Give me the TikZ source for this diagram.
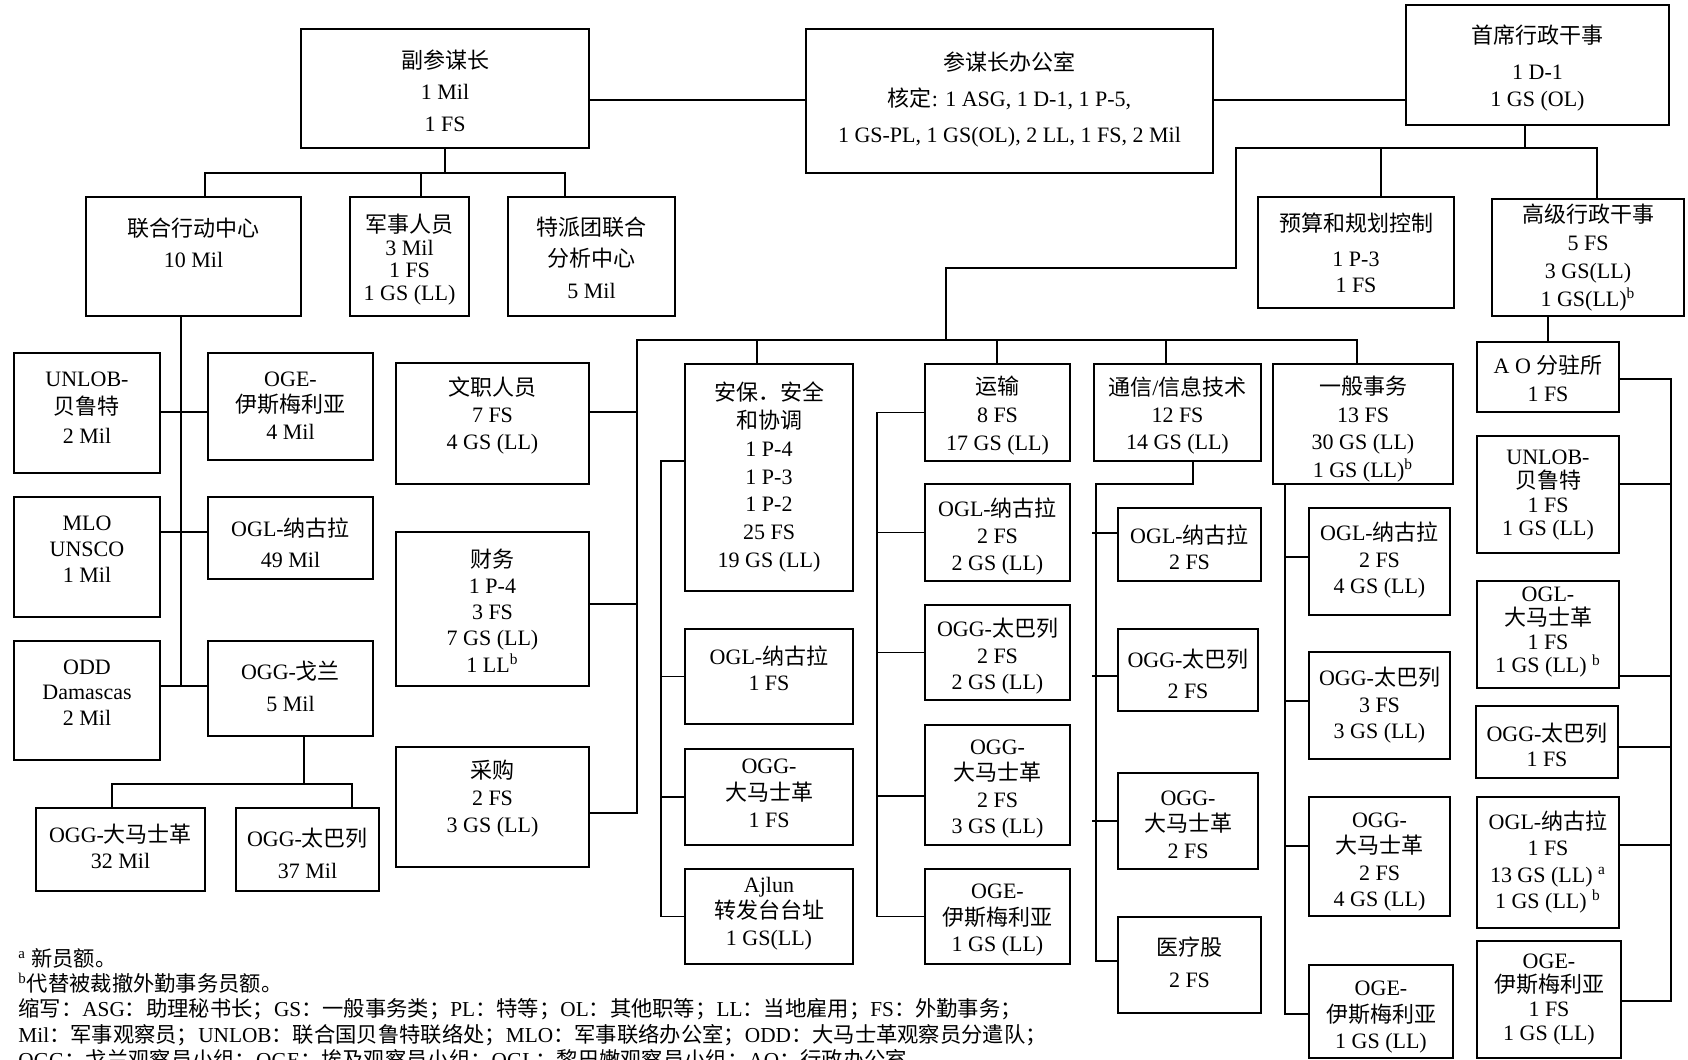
\documentclass[tikz,border=0pt]{standalone}
\usepackage{fontspec}
\setmainfont{Liberation Serif}
\newfontfamily\cjkfont{Noto Sans CJK SC}
\usetikzlibrary{calc}
\XeTeXinterchartokenstate=1
\newXeTeXintercharclass\CJKcls
\newcount\cjkc
\def\setcjkrange#1#2{\cjkc=#1 \loop\XeTeXcharclass\cjkc=\CJKcls\relax\ifnum\cjkc<#2 \advance\cjkc by 1 \repeat}
\setcjkrange{"3000}{"303F}
\setcjkrange{"4E00}{"9FFF}
\setcjkrange{"FF00}{"FFEF}
\XeTeXinterchartoks 0 \CJKcls = {\cjkfont}
\XeTeXinterchartoks 4095 \CJKcls = {\cjkfont}
\XeTeXinterchartoks \CJKcls 0 = {\rmfamily}
\XeTeXinterchartoks \CJKcls 4095 = {\rmfamily}
\tikzset{
  box/.style={draw, line width=0.9pt, inner sep=0pt, outer sep=0pt},
  txt/.style={align=center, inner sep=0pt},
  ln/.style={line width=0.75pt},
  note/.style={anchor=base west, inner sep=0pt, font=\fontsize{10.65}{12}\selectfont}
}
% name, x1, y1, x2, y2, text centre y, baselineskip (pt), text
\newcommand\bx[8]{%
  \node[box, minimum width={(#4-#2)*0.5pt}, minimum height={(#5-#3)*0.5pt}] (#1) at ({(#2+#4)/2},{(#3+#5)/2}) {};
  \node[txt, font=\fontsize{11}{#7}\selectfont] (#1-t) at ({(#2+#4)/2},#6) {#8};
}
\begin{document}
\begin{tikzpicture}[x=0.5pt,y=-0.5pt]
\useasboundingbox (0,0) rectangle (1688,1060);
\fill[white] (0,0) rectangle (1688,1060);
% named levels
\coordinate (hTop) at (0,100);
\coordinate (hA) at (0,173);
\coordinate (vJoc) at (205,0); \coordinate (vMil) at (421,0); \coordinate (vJmac) at (565,0);
\coordinate (vL) at (181,0);
\coordinate (hU) at (0,412); \coordinate (hM) at (0,532); \coordinate (hO) at (0,686);
\coordinate (vG) at (304,0); \coordinate (hG) at (0,784); \coordinate (vGa) at (112,0); \coordinate (vGb) at (352,0);
\coordinate (vC) at (1525,0); \coordinate (hB) at (0,148); \coordinate (vB1) at (1236,0);
\coordinate (vBud) at (1381,0); \coordinate (vSao) at (1597,0);
\coordinate (hK) at (0,268); \coordinate (vK) at (946,0); \coordinate (hS) at (0,340);
\coordinate (vP) at (637,0); \coordinate (vSec) at (757,0); \coordinate (vTr) at (997,0);
\coordinate (vCm) at (1166,0); \coordinate (vGn) at (1357,0);
\coordinate (hCl) at (0,412); \coordinate (hFi) at (0,604); \coordinate (hPr) at (0,813);
\coordinate (vS2) at (661,0); \coordinate (hSe) at (0,461);
\coordinate (vT2) at (877,0); \coordinate (hDam) at (0,796);
\coordinate (vCb) at (1193,0); \coordinate (hCb) at (0,484); \coordinate (vC2) at (1096,0);
\coordinate (hCm1) at (0,533); \coordinate (hCm2) at (0,676); \coordinate (hCm3) at (0,821); \coordinate (hCm4) at (0,961);
\coordinate (vG2) at (1285,0);
\coordinate (hGn1) at (0,557); \coordinate (hGn2) at (0,701); \coordinate (hGn3) at (0,846); \coordinate (hGn4) at (0,1014);
\coordinate (vR) at (1671,0);
\coordinate (hR1) at (0,379); \coordinate (hR2) at (0,484); \coordinate (hR3) at (0,676);
\coordinate (hR4) at (0,747); \coordinate (hR5) at (0,845); \coordinate (hR6) at (0,1001);
% boxes
\bx{dcos}{301}{29}{589}{148}{90.5}{15.75}{副参谋长\\1 Mil\\1 FS}
\bx{cos}{806}{29}{1213}{173}{99}{18}{参谋长办公室\\核定: 1 ASG, 1 D-1, 1 P-5,\\1 GS-PL, 1 GS(OL), 2 LL, 1 FS, 2 Mil}
\bx{cao}{1406}{5}{1669}{125}{68.5}{13.5}{首席行政干事\\[4.5pt]1 D-1\\1 GS (OL)}
\bx{budget}{1258}{197}{1454}{308}{252.5}{13}{预算和规划控制\\[4.5pt]1 P-3\\1 FS}
\bx{sao}{1492}{199}{1684}{316}{258}{14}{高级行政干事\\5 FS\\3 GS(LL)\\1 GS(LL)\textsuperscript{b}}
\bx{joc}{86}{197}{301}{316}{242.5}{15.5}{联合行动中心\\10 Mil}
\bx{milp}{350}{197}{469}{316}{259.5}{11.2}{军事人员\\3 Mil\\1 FS\\1 GS (LL)}
\bx{jmac}{508}{197}{675}{316}{257.5}{15.75}{特派团联合\\分析中心\\5 Mil}
\bx{unlobL}{14}{353}{160}{473}{407.5}{14.25}{UNLOB-\\贝鲁特\\2 Mil}
\bx{ogeL}{208}{353}{373}{460}{405.5}{13.25}{OGE-\\伊斯梅利亚\\4 Mil}
\bx{mlo}{14}{497}{160}{617}{549}{13}{MLO\\UNSCO\\1 Mil}
\bx{oglL}{208}{497}{373}{579}{542.5}{15.5}{OGL-纳古拉\\49 Mil}
\bx{odd}{14}{641}{160}{760}{692.5}{12.75}{ODD\\Damascas\\2 Mil}
\bx{oggL}{208}{641}{373}{736}{686}{16}{OGG-戈兰\\5 Mil}
\bx{oggdam}{36}{808}{205}{891}{846}{13}{OGG-大马士革\\32 Mil}
\bx{oggtib}{236}{808}{379}{891}{853}{16}{OGG-太巴列\\37 Mil}
\bx{clerk}{396}{363}{589}{484}{416}{13.5}{文职人员\\7 FS\\4 GS (LL)}
\bx{fin}{396}{532}{589}{686}{610.5}{13.1}{财务\\1 P-4\\3 FS\\7 GS (LL)\\1 LL\textsuperscript{b}}
\bx{proc}{396}{747}{589}{867}{799}{13.5}{采购\\2 FS\\3 GS (LL)}
\bx{sec}{685}{364}{853}{591}{477}{13.85}{安保．安全\\和协调\\1 P-4\\1 P-3\\1 P-2\\25 FS\\19 GS (LL)}
\bx{secOGL}{685}{629}{853}{724}{668}{13}{OGL-纳古拉\\1 FS}
\bx{secOGG}{685}{749}{853}{845}{793}{13.5}{OGG-\\大马士革\\1 FS}
\bx{ajlun}{685}{869}{853}{964}{913.5}{13.25}{Ajlun\\转发台台址\\1 GS(LL)}
\bx{trans}{925}{364}{1070}{461}{416}{14}{运输\\8 FS\\17 GS (LL)}
\bx{trOGL}{925}{484}{1070}{581}{537}{13.5}{OGL-纳古拉\\2 FS\\2 GS (LL)}
\bx{trOGG}{925}{605}{1070}{700}{656.5}{13.25}{OGG-太巴列\\2 FS\\2 GS (LL)}
\bx{trDam}{925}{725}{1070}{845}{789}{13.3}{OGG-\\大马士革\\2 FS\\3 GS (LL)}
\bx{trOGE}{925}{869}{1070}{964}{920.5}{13.25}{OGE-\\伊斯梅利亚\\1 GS (LL)}
\bx{comm}{1094}{364}{1261}{461}{415}{13.5}{通信/信息技术\\12 FS\\14 GS (LL)}
\bx{cmOGL}{1118}{508}{1261}{581}{547}{13}{OGL-纳古拉\\2 FS}
\bx{cmOGG}{1118}{629}{1258}{711}{673.5}{15.5}{OGG-太巴列\\2 FS}
\bx{cmDam}{1118}{773}{1258}{869}{824.5}{13.25}{OGG-\\大马士革\\2 FS}
\bx{med}{1118}{917}{1261}{1013}{962}{16}{医疗股\\2 FS}
\bx{gen}{1273}{364}{1453}{484}{429}{13.7}{一般事务\\13 FS\\30 GS (LL)\\1 GS (LL)\textsuperscript{b}}
\bx{gnOGL}{1309}{508}{1450}{615}{560.5}{13.25}{OGL-纳古拉\\2 FS\\4 GS (LL)}
\bx{gnOGG}{1309}{652}{1450}{759}{705.5}{13.25}{OGG-太巴列\\3 FS\\3 GS (LL)}
\bx{gnDam}{1309}{797}{1450}{916}{862}{13.3}{OGG-\\大马士革\\2 FS\\4 GS (LL)}
\bx{gnOGE}{1309}{965}{1453}{1058}{1017.5}{13.25}{OGE-\\伊斯梅利亚\\1 GS (LL)}
\bx{ao}{1477}{342}{1619}{412}{378}{14}{A O 分驻所\\1 FS}
\bx{unlobR}{1477}{436}{1619}{553}{495.5}{11.85}{UNLOB-\\贝鲁特\\1 FS\\1 GS (LL)}
\bx{oglDam}{1477}{581}{1619}{688}{632.5}{11.85}{OGL-\\大马士革\\1 FS\\1 GS (LL) \textsuperscript{b}}
\bx{oggTibR}{1476}{706}{1618}{778}{744.5}{12.5}{OGG-太巴列\\1 FS}
\bx{oglNagR}{1477}{797}{1619}{928}{862}{13.3}{OGL-纳古拉\\1 FS\\13 GS (LL) \textsuperscript{a}\\1 GS (LL) \textsuperscript{b}}
\bx{ogeR}{1477}{941}{1621}{1058}{1000}{12}{OGE-\\伊斯梅利亚\\1 FS\\1 GS (LL)}
% connectors: top
\draw[ln] (dcos.east |- hTop) -- (cos.west |- hTop);
\draw[ln] (cos.east |- hTop) -- (cao.west |- hTop);
% DCoS subtree
\draw[ln] (dcos.south) -- (dcos.south |- hA);
\draw[ln] (vJoc |- joc.north) -- (vJoc |- hA) -- (vJmac |- hA) -- (vJmac |- jmac.north);
\draw[ln] (vMil |- milp.north) -- (vMil |- hA);
\draw[ln] (vL |- joc.south) -- (vL |- hO);
\draw[ln] (unlobL.east |- hU) -- (ogeL.west |- hU);
\draw[ln] (mlo.east |- hM) -- (oglL.west |- hM);
\draw[ln] (odd.east |- hO) -- (oggL.west |- hO);
\draw[ln] (vG |- oggL.south) -- (vG |- hG);
\draw[ln] (vGa |- oggdam.north) -- (vGa |- hG) -- (vGb |- hG) -- (vGb |- oggtib.north);
% CAO subtree
\draw[ln] (vC |- cao.south) -- (vC |- hB);
\draw[ln] (vBud |- budget.north) -- (vBud |- hB);
\draw[ln] (vSao |- sao.north) -- (vSao |- hB) -- (vB1 |- hB) -- (vB1 |- hK) -- (vK |- hK) -- (vK |- hS);
\draw[ln] (clerk.east |- hCl) -- (vP |- hCl);
\draw[ln] (fin.east |- hFi) -- (vP |- hFi);
\draw[ln] (proc.east |- hPr) -- (vP |- hPr) -- (vP |- hS) -- (vGn |- hS) -- (vGn |- gen.north);
\draw[ln] (vSec |- hS) -- (vSec |- sec.north);
\draw[ln] (vTr |- hS) -- (vTr |- trans.north);
\draw[ln] (vCm |- hS) -- (vCm |- comm.north);
% security column
\draw[ln] (sec.west |- hSe) -- (vS2 |- hSe) -- (vS2 |- ajlun.west) -- (ajlun.west);
\draw[ln] (vS2 |- secOGL.west) -- (secOGL.west);
\draw[ln] (vS2 |- secOGG.west) -- (secOGG.west);
% transport column
\draw[ln] (trans.west) -- (vT2 |- trans.west) -- (vT2 |- trOGE.west) -- (trOGE.west);
\draw[ln] (vT2 |- trOGL.west) -- (trOGL.west);
\draw[ln] (vT2 |- trOGG.west) -- (trOGG.west);
\draw[ln] (vT2 |- hDam) -- (trDam.west |- hDam);
% comm column
\draw[ln] (vCb |- comm.south) -- (vCb |- hCb) -- (vC2 |- hCb) -- (vC2 |- hCm4) -- (med.west |- hCm4);
\draw[ln] ([xshift=-2pt]vC2 |- hCm1) -- (cmOGL.west |- hCm1);
\draw[ln] ([xshift=-2pt]vC2 |- hCm2) -- (cmOGG.west |- hCm2);
\draw[ln] ([xshift=-2pt]vC2 |- hCm3) -- (cmDam.west |- hCm3);
% general services column
\draw[ln] (vG2 |- gen.south) -- (vG2 |- hGn4) -- (gnOGE.west |- hGn4);
\draw[ln] (vG2 |- hGn1) -- (gnOGL.west |- hGn1);
\draw[ln] (vG2 |- hGn2) -- (gnOGG.west |- hGn2);
\draw[ln] (vG2 |- hGn3) -- (gnDam.west |- hGn3);
% AO column
\draw[ln] (sao.south -| ao.north) -- (ao.north);
\draw[ln] (ao.east |- hR1) -- (vR |- hR1) -- (vR |- hR6) -- (ogeR.east |- hR6);
\draw[ln] (unlobR.east |- hR2) -- (vR |- hR2);
\draw[ln] (oglDam.east |- hR3) -- (vR |- hR3);
\draw[ln] (oggTibR.east |- hR4) -- (vR |- hR4);
\draw[ln] (oglNagR.east |- hR5) -- (vR |- hR5);
% notes
\node[note] (n1) at (18,966) {\textsuperscript{a} 新员额。};
\node[note] (n2) at (18,991) {\textsuperscript{b}代替被裁撤外勤事务员额。};
\node[note] (n3) at (18,1016) {缩写：ASG：助理秘书长；GS：一般事务类；PL：特等；OL：其他职等；LL：当地雇用；FS：外勤事务；};
\node[note] (n4) at (18,1042) {Mil：军事观察员；UNLOB：联合国贝鲁特联络处；MLO：军事联络办公室；ODD：大马士革观察员分遣队；};
\node[note] (n5) at (18,1067) {OGG：戈兰观察员小组；OGE：埃及观察员小组；OGL：黎巴嫩观察员小组；AO：行政办公室};
\end{tikzpicture}
\end{document}
